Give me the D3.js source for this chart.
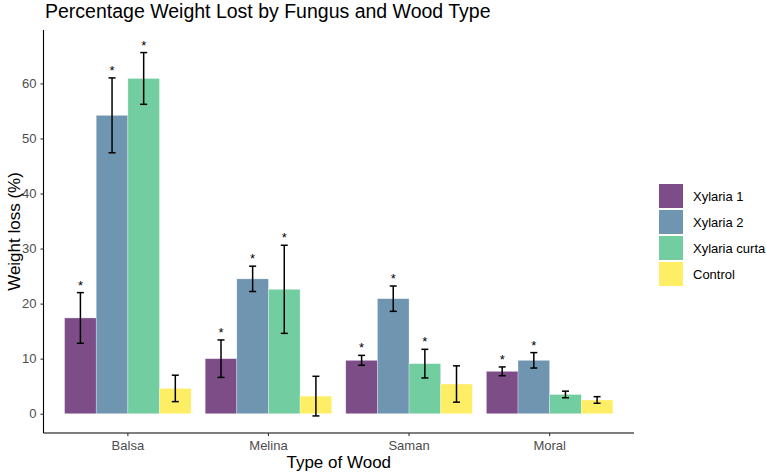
<!DOCTYPE html>
<html>
<head>
<meta charset="utf-8">
<script src="https://cdn.jsdelivr.net/npm/d3@7"></script>
<style>
  body { margin: 0; background: #fff; }
  svg { font-family: "Liberation Sans", Arial, sans-serif; display: block; }
</style>
</head>
<body>
<div id="chart-area"></div>
<script>
// data
var woods = ['Balsa', 'Melina', 'Saman', 'Moral'];
var fungi = ['Xylaria 1', 'Xylaria 2', 'Xylaria curta', 'Control'];
var means = [
  [17.4, 54.2, 60.9, 4.6],
  [10.0, 24.5, 22.6, 3.2],
  [9.7, 20.9, 9.1, 5.4],
  [7.7, 9.7, 3.5, 2.5]
];
var errs = [
  [4.6, 6.8, 4.7, 2.4],
  [3.4, 2.3, 8.0, 3.6],
  [0.9, 2.3, 2.6, 3.3],
  [0.8, 1.4, 0.6, 0.6]
];
var signif = [
  [1, 1, 1, 0],
  [1, 1, 1, 0],
  [1, 1, 1, 0],
  [1, 1, 0, 0]
];
var yTicks = [0, 10, 20, 30, 40, 50, 60];
var colors = ['#7C4D87', '#6F95B0', '#72CDA1', '#FEEE66'];

var W = 767, H = 473;
var margin = {top: 30, left: 43.5, right: 133, bottom: 40};
var width = W - margin.left - margin.right;
var height = H - margin.top - margin.bottom;

var svg = d3.select('#chart-area')
  .append('svg')
    .attr('width', W)
    .attr('height', H);

var g = svg.append('g')
  .attr('transform', 'translate(' + margin.left + ',' + margin.top + ')');

// scales
var x = d3.scaleBand()
  .domain(woods)
  .range([0, width])
  .paddingInner(0.1)
  .paddingOuter(0.15);
var xSub = d3.scaleBand()
  .domain(fungi)
  .range([0, x.bandwidth()]);
var y = d3.scaleLinear()
  .domain([-3.5, 69.7])
  .range([height, 0]);
var color = d3.scaleOrdinal()
  .domain(fungi)
  .range(colors);

// flatten rows for drawing
var rows = [];
woods.forEach(function(w, i){
  fungi.forEach(function(f, j){
    rows.push({wood: w, fungus: f, mean: means[i][j], se: errs[i][j], sig: signif[i][j]});
  });
});

// bars
g.selectAll('rect.bar').data(rows).enter().append('rect')
  .attr('class', 'bar')
  .attr('x', function(d){ return x(d.wood) + xSub(d.fungus); })
  .attr('width', xSub.bandwidth())
  .attr('y', function(d){ return y(d.mean); })
  .attr('height', function(d){ return y(0) - y(d.mean); })
  .attr('fill', function(d){ return color(d.fungus); })
  .attr('stroke', '#fff')
  .attr('stroke-opacity', 0.5)
  .attr('stroke-width', 0.6);

// error bars
var capW = 3.5;
var eb = g.selectAll('g.err').data(rows).enter().append('g')
  .attr('class', 'err')
  .attr('transform', function(d){ return 'translate(' + (x(d.wood) + xSub(d.fungus) + xSub.bandwidth() / 2) + ',0)'; })
  .attr('stroke', '#000')
  .attr('stroke-width', 1.5);
eb.append('line')
  .attr('y1', function(d){ return y(d.mean + d.se); })
  .attr('y2', function(d){ return y(d.mean - d.se); });
eb.append('line')
  .attr('x1', -capW).attr('x2', capW)
  .attr('y1', function(d){ return y(d.mean + d.se); })
  .attr('y2', function(d){ return y(d.mean + d.se); });
eb.append('line')
  .attr('x1', -capW).attr('x2', capW)
  .attr('y1', function(d){ return y(d.mean - d.se); })
  .attr('y2', function(d){ return y(d.mean - d.se); });

// significance stars
g.selectAll('text.star').data(rows.filter(function(d){ return d.sig; })).enter().append('text')
  .attr('class', 'star')
  .attr('x', function(d){ return x(d.wood) + xSub(d.fungus) + xSub.bandwidth() / 2; })
  .attr('y', function(d){ return y(d.mean + d.se) - 3; })
  .attr('text-anchor', 'middle')
  .attr('font-size', '13px')
  .attr('fill', '#000')
  .text('*');

// axes
var xAxisCall = d3.axisBottom(x).tickSize(3).tickPadding(5);
var xAxis = g.append('g')
  .attr('transform', 'translate(0,' + height + ')')
  .call(xAxisCall);
var yAxisCall = d3.axisLeft(y).tickValues(yTicks).tickSize(3).tickPadding(4);
var yAxis = g.append('g')
  .call(yAxisCall);
[xAxis, yAxis].forEach(function(a){
  a.select('.domain').attr('stroke', '#000').attr('stroke-width', 1.1);
  a.selectAll('.tick line').attr('stroke', '#333').attr('stroke-width', 1.1);
  a.selectAll('.tick text')
    .attr('fill', '#4d4d4d')
    .attr('font-size', '13px')
    .attr('font-family', '"Liberation Sans", Arial, sans-serif');
});
yAxis.select('.domain').attr('d', 'M0,0V' + height);
xAxis.select('.domain').attr('d', 'M0,0H' + width);

// title and axis labels
svg.append('text')
  .attr('x', 45)
  .attr('y', 18)
  .attr('font-size', '19.5px')
  .attr('fill', '#000')
  .text('Percentage Weight Lost by Fungus and Wood Type');
svg.append('text')
  .attr('x', margin.left + width / 2)
  .attr('y', 468)
  .attr('text-anchor', 'middle')
  .attr('font-size', '17px')
  .attr('fill', '#000')
  .text('Type of Wood');
svg.append('text')
  .attr('transform', 'translate(20,' + (margin.top + height / 2) + ') rotate(-90)')
  .attr('text-anchor', 'middle')
  .attr('font-size', '17px')
  .attr('fill', '#000')
  .text('Weight loss (%)');

// legend
var legend = svg.append('g')
  .attr('transform', 'translate(659,184)');
fungi.forEach(function(f, i){
  var row = legend.append('g').attr('transform', 'translate(0,' + (i * 26) + ')');
  row.append('rect')
    .attr('width', 24)
    .attr('height', 24)
    .attr('fill', colors[i]);
  row.append('text')
    .attr('x', 34)
    .attr('y', 12)
    .attr('dy', '0.35em')
    .attr('font-size', '13px')
    .attr('fill', '#000')
    .text(f);
});
</script>
</body>
</html>
